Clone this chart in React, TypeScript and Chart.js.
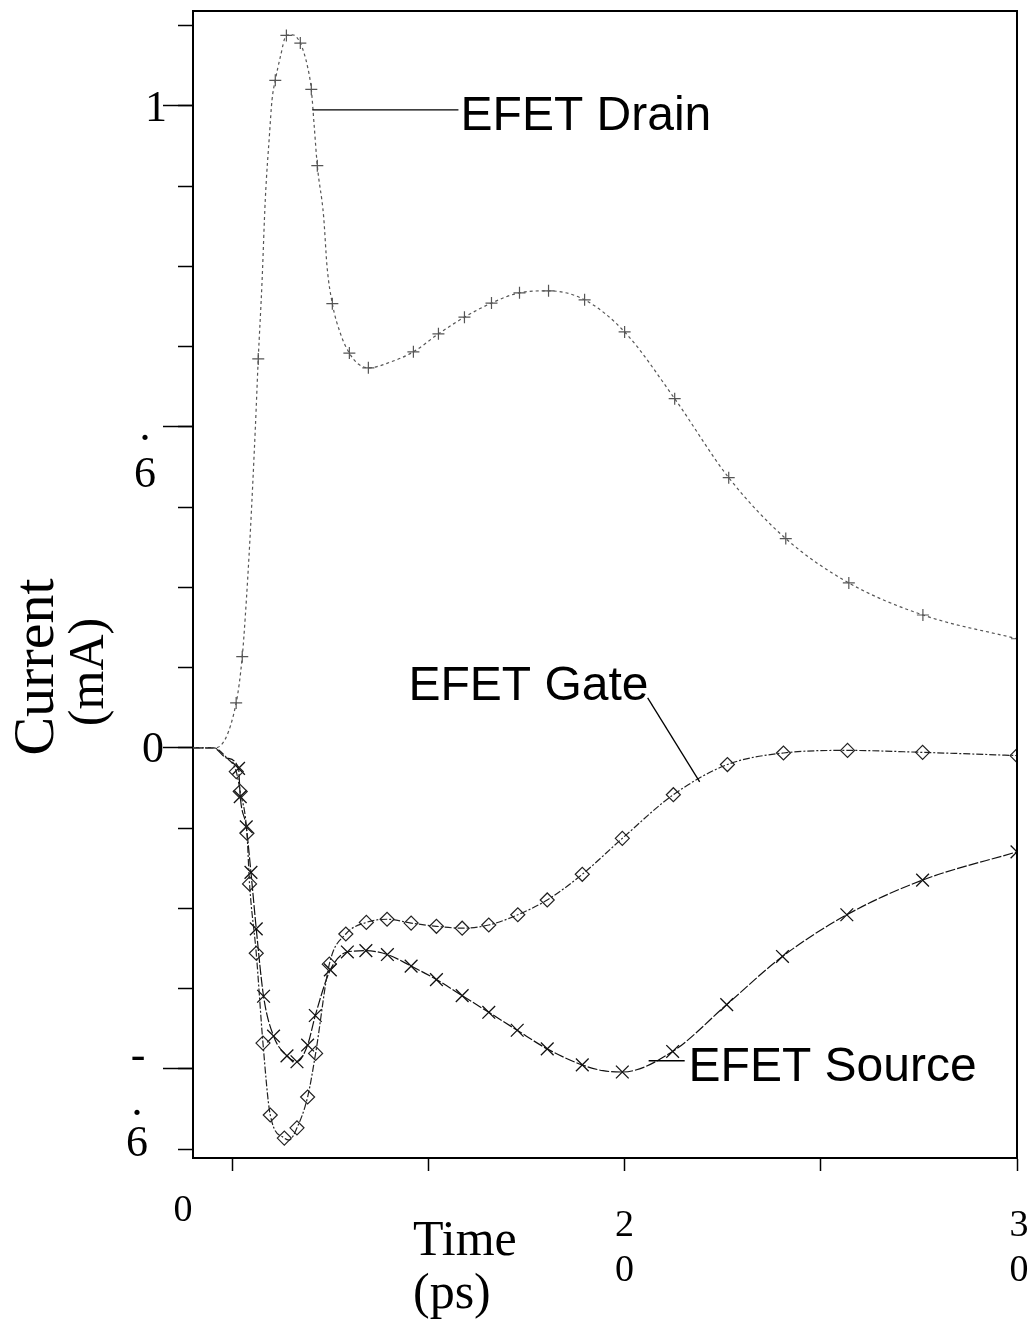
import React, { useEffect, useRef } from "react";
import { Chart, registerables } from "chart.js";

Chart.register(...registerables);

// ---- data (time in ps, current in mA) ----
const drainTime = [9.0, 9.57, 10.1, 10.255, 10.332, 10.46, 10.59, 10.663, 10.758, 10.842, 10.952, 11.013, 11.097, 11.224, 11.38, 11.531, 11.735, 11.92, 12.015, 12.09, 12.168, 12.329, 12.416, 12.551, 12.755, 12.985, 13.214, 13.469, 14.03, 14.617, 15.255, 15.918, 16.607, 17.321, 18.061, 18.98, 20.0, 21.276, 22.653, 24.107, 25.714, 27.602, 30.0];
const drainCurrent = [0, 0, 0.07, 0.142, 0.204, 0.335, 0.5, 0.606, 0.724, 0.854, 0.958, 1.009, 1.04, 1.076, 1.11, 1.111, 1.098, 1.061, 1.026, 0.968, 0.907, 0.828, 0.75, 0.692, 0.646, 0.615, 0.598, 0.592, 0.601, 0.617, 0.645, 0.671, 0.693, 0.709, 0.712, 0.698, 0.648, 0.544, 0.421, 0.326, 0.257, 0.207, 0.17];
const drainMarked = [0, 0, 1, 1, 0, 0, 0, 1, 0, 0, 0, 0, 1, 0, 1, 0, 1, 0, 1, 0, 1, 0, 0, 1, 0, 1, 0, 1, 0, 1, 1, 1, 1, 1, 1, 1, 1, 1, 1, 1, 1, 1, 1];

const gateTime = [9.0, 9.523, 9.865, 10.102, 10.204, 10.375, 10.441, 10.612, 10.783, 10.969, 11.327, 11.45, 11.65, 11.921, 12.125, 12.474, 12.895, 13.418, 13.946, 14.559, 15.204, 15.86, 16.538, 17.278, 18.028, 18.921, 19.941, 21.242, 22.62, 24.048, 25.681, 27.594, 30.0];
const gateCurrent = [0, 0, -0.016, -0.037, -0.068, -0.133, -0.212, -0.32, -0.46, -0.572, -0.608, -0.611, -0.592, -0.544, -0.476, -0.337, -0.29, -0.272, -0.267, -0.273, -0.278, -0.281, -0.276, -0.26, -0.237, -0.197, -0.141, -0.073, -0.026, -0.008, -0.004, -0.007, -0.012];
const gateMarked = [0, 0, 0, 1, 1, 1, 1, 1, 1, 1, 1, 0, 1, 1, 1, 1, 1, 1, 1, 1, 1, 1, 1, 1, 1, 1, 1, 1, 1, 1, 1, 1, 1];

const sourceTime = [9.0, 9.523, 9.865, 10.161, 10.204, 10.357, 10.477, 10.612, 10.798, 11.053, 11.395, 11.65, 11.921, 12.117, 12.5, 12.934, 13.406, 13.954, 14.559, 15.204, 15.86, 16.538, 17.263, 18.028, 18.921, 19.45, 19.941, 21.224, 22.602, 24.023, 25.663, 27.594, 30.0];
const sourceCurrent = [0, 0, -0.016, -0.032, -0.076, -0.123, -0.194, -0.282, -0.387, -0.449, -0.48, -0.489, -0.463, -0.417, -0.346, -0.318, -0.316, -0.322, -0.34, -0.361, -0.386, -0.412, -0.44, -0.469, -0.494, -0.503, -0.505, -0.473, -0.4, -0.325, -0.26, -0.206, -0.162];
const sourceMarked = [0, 0, 0, 1, 1, 1, 1, 1, 1, 1, 1, 1, 1, 1, 1, 1, 1, 1, 1, 1, 1, 1, 1, 1, 1, 0, 1, 1, 1, 1, 1, 1, 1];

// axis range and tick texts (as printed in the figure)
const timeMin = 9;
const timeMax = 30;
const currentMin = -0.639;
const currentMax = 1.148;
const xTickValues = [20, 30];
const xTickTexts = [["2", "0"], ["3", "0"]];
const xOriginText = "0";
const xTitle = ["Time", "(ps)"];
const yTitle = ["Current", "(mA)"];

// annotations (data coordinates)
const labelTexts = ["EFET Drain", "EFET Gate", "EFET Source"];
const labelAt = [[15.82, 0.963], [14.49, 0.075], [21.63, -0.519]];
const leaderFrom = [[12.041, 0.994], [20.587, 0.078], [20.612, -0.4875]];
const leaderTo = [[15.765, 0.994], [21.913, -0.053], [21.531, -0.4875]];

const toPoints = (t: number[], v: number[]) => t.map((x, i) => ({ x, y: v[i] }));

const overlayPlugin = {
  id: "overlay",
  afterDraw(chart: any) {
    const { ctx, chartArea: a, scales } = chart;
    const xs = scales.x;
    const ys = scales.y;
    ctx.save();
    // frame top & right
    ctx.strokeStyle = "#000";
    ctx.lineWidth = 2;
    ctx.beginPath();
    ctx.moveTo(a.left, a.top);
    ctx.lineTo(a.right, a.top);
    ctx.lineTo(a.right, a.bottom);
    ctx.stroke();

    ctx.fillStyle = "#000";
    ctx.textBaseline = "alphabetic";
    ctx.textAlign = "center";
    // y tick labels (garbled as in the source figure)
    ctx.font = '44px "Liberation Serif"';
    ctx.fillText("1", 156, ys.getPixelForValue(1) + 15);
    ctx.fillText(".", 145, ys.getPixelForValue(0.5) + 13);
    ctx.fillText("6", 145, ys.getPixelForValue(0.5) + 60);
    ctx.fillText("0", 153, ys.getPixelForValue(0) + 14);
    ctx.fillText("-", 138, ys.getPixelForValue(-0.5) + 0);
    ctx.fillText(".", 137, ys.getPixelForValue(-0.5) + 46);
    ctx.fillText("6", 137, ys.getPixelForValue(-0.5) + 87);

    // x tick labels
    ctx.font = '38px "Liberation Serif"';
    ctx.fillText(xOriginText, a.left - 10, a.bottom + 63);
    xTickValues.forEach((v, i) => {
      const px = xs.getPixelForValue(v) + (v === timeMax ? 2 : 0);
      xTickTexts[i].forEach((s, k) => ctx.fillText(s, px, a.bottom + 78 + k * 45));
    });

    // x title
    ctx.font = '50px "Liberation Serif"';
    ctx.textAlign = "left";
    ctx.fillText(xTitle[0], 413, a.bottom + 97);
    ctx.fillText(xTitle[1], 413, a.bottom + 150);

    // y title
    ctx.textAlign = "center";
    ctx.textBaseline = "middle";
    ctx.font = '58px "Liberation Serif"';
    ctx.save();
    ctx.translate(38, 667);
    ctx.rotate(-Math.PI / 2);
    ctx.fillText(yTitle[0], 0, 0);
    ctx.restore();
    ctx.font = '50px "Liberation Serif"';
    ctx.save();
    ctx.translate(90, 672);
    ctx.rotate(-Math.PI / 2);
    ctx.fillText(yTitle[1], 0, 0);
    ctx.restore();

    // annotations
    ctx.strokeStyle = "#000";
    ctx.lineWidth = 1.3;
    leaderFrom.forEach((f, i) => {
      ctx.beginPath();
      ctx.moveTo(xs.getPixelForValue(f[0]), ys.getPixelForValue(f[1]));
      ctx.lineTo(xs.getPixelForValue(leaderTo[i][0]), ys.getPixelForValue(leaderTo[i][1]));
      ctx.stroke();
    });
    ctx.font = '48px "Liberation Sans"';
    ctx.textAlign = "left";
    ctx.textBaseline = "alphabetic";
    labelTexts.forEach((s, i) => {
      ctx.fillText(s, xs.getPixelForValue(labelAt[i][0]), ys.getPixelForValue(labelAt[i][1]));
    });
    ctx.restore();
  },
};

export default function App() {
  const ref = useRef<HTMLCanvasElement | null>(null);
  useEffect(() => {
    if (!ref.current) return;
    const marker = (flags: number[], r: number) => (c: any) => (flags[c.dataIndex] ? r : 0);
    const chart = new Chart(ref.current, {
      type: "line",
      data: {
        datasets: [
          {
            label: "EFET Drain",
            data: toPoints(drainTime, drainCurrent),
            borderColor: "#555",
            borderWidth: 1.2,
            borderDash: [3, 3],
            pointStyle: "cross",
            pointRadius: marker(drainMarked, 6),
            pointBorderColor: "#555",
            pointBorderWidth: 1.2,
            pointBackgroundColor: "rgba(0,0,0,0)",
            cubicInterpolationMode: "monotone",
          },
          {
            label: "EFET Gate",
            data: toPoints(gateTime, gateCurrent),
            borderColor: "#222",
            borderWidth: 1.2,
            borderDash: [7, 2, 2, 2],
            pointStyle: "rectRot",
            pointRadius: marker(gateMarked, 7),
            pointBorderColor: "#222",
            pointBorderWidth: 1.2,
            pointBackgroundColor: "rgba(0,0,0,0)",
            cubicInterpolationMode: "monotone",
          },
          {
            label: "EFET Source",
            data: toPoints(sourceTime, sourceCurrent),
            borderColor: "#111",
            borderWidth: 1.2,
            borderDash: [10, 2],
            pointStyle: "crossRot",
            pointRadius: marker(sourceMarked, 9),
            pointBorderColor: "#111",
            pointBorderWidth: 1.3,
            pointBackgroundColor: "rgba(0,0,0,0)",
            cubicInterpolationMode: "monotone",
          },
        ],
      },
      options: {
        responsive: false,
        animation: false,
        events: [],
        layout: { padding: { left: 178, right: 12, top: 11, bottom: 155 } },
        plugins: { legend: { display: false }, tooltip: { enabled: false }, title: { display: false } },
        scales: {
          x: {
            type: "linear",
            position: "bottom",
            min: timeMin,
            max: timeMax,
            ticks: { display: false, stepSize: 5, includeBounds: false },
            grid: { drawOnChartArea: false, drawTicks: true, tickLength: 13, tickWidth: 1.5, tickColor: "#000" },
            border: { display: true, color: "#000", width: 2 },
            afterFit: (s: any) => { s.height = 13; },
          },
          y: {
            type: "linear",
            position: "left",
            weight: 1,
            min: currentMin,
            max: currentMax,
            ticks: { display: false, stepSize: 0.125, includeBounds: false },
            grid: { drawOnChartArea: false, drawTicks: true, tickLength: 15, tickWidth: 1.5, tickColor: "#000" },
            border: { display: true, color: "#000", width: 2 },
            afterFit: (s: any) => { s.width = 15; },
          },
          yMajor: {
            type: "linear",
            position: "left",
            weight: 0,
            min: currentMin,
            max: currentMax,
            ticks: { display: false, stepSize: 0.5, includeBounds: false },
            grid: { drawOnChartArea: false, drawTicks: true, tickLength: 30, tickWidth: 1.5, tickColor: "#000" },
            border: { display: false },
            afterFit: (s: any) => { s.width = 0; },
          },
        },
      },
      plugins: [overlayPlugin],
    } as any);
    return () => chart.destroy();
  }, []);
  return (
    <div style={{ position: "absolute", left: 0, top: 0, width: 1029, height: 1326, background: "#fff" }}>
      <canvas ref={ref} width={1029} height={1326} />
    </div>
  );
}
